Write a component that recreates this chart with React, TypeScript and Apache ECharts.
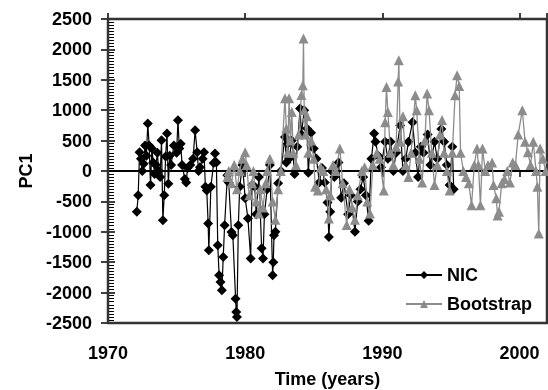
import React, { useEffect, useRef } from "react";
import * as echarts from "echarts";

const seriesNames = ["NIC", "Bootstrap"];
const yTicks = { min: -2500, max: 2500, step: 500 };
const xTicks = { min: 1970, max: 2002, step: 10 };

const nicData: number[][] = [
  [1972.1, -670], [1972.2, -400], [1972.3, 310], [1972.4, 200], [1972.5, 0], [1972.6, 120],
  [1972.7, 420], [1972.8, 250], [1972.9, 780], [1973.0, 420], [1973.1, -230], [1973.2, 370],
  [1973.3, 140], [1973.4, -50], [1973.5, 100], [1973.6, 300], [1973.7, 0], [1973.8, -100],
  [1973.9, 505], [1974.0, -810], [1974.1, -400], [1974.2, 240], [1974.3, 615], [1974.4, -210],
  [1974.5, 250], [1974.6, 100], [1974.8, 420], [1975.0, 300], [1975.1, 834], [1975.2, 370],
  [1975.3, 450], [1975.4, 100], [1975.6, -130], [1975.7, -190], [1975.8, 50], [1976.0, 100],
  [1976.2, 200], [1976.35, 670], [1976.5, 310], [1976.6, 0], [1976.7, 60], [1976.9, 200],
  [1977.0, 310], [1977.1, -260], [1977.2, -320], [1977.3, -865], [1977.35, -1305], [1977.5, -260],
  [1977.7, 130], [1977.8, 286], [1977.9, 140], [1978.0, -1222], [1978.1, -1716], [1978.2, -1826],
  [1978.3, -1962], [1978.4, -1415], [1978.5, -893], [1978.7, -70], [1978.8, -190], [1979.0, -1003],
  [1979.1, -1058], [1979.3, -2100], [1979.35, -2320], [1979.4, -2400], [1979.5, -893], [1979.6, -260],
  [1979.8, 100], [1980.0, -450], [1980.2, -780], [1980.4, -1440], [1980.5, -230], [1980.7, -260],
  [1980.8, -710], [1981.0, -100], [1981.2, -1270], [1981.3, -1440], [1981.4, -710], [1981.6, -300],
  [1981.8, 100], [1982.0, -1716], [1982.05, -1500], [1982.1, -1058], [1982.2, -1000], [1982.4, -200],
  [1982.6, 0], [1982.9, 560], [1983.0, 140], [1983.1, 450], [1983.2, 200], [1983.4, 500],
  [1983.6, -50], [1983.8, 400], [1984.0, 1030], [1984.1, 600], [1984.3, 1000], [1984.5, 700],
  [1984.6, -30], [1984.8, 630], [1985.0, 370], [1985.2, 200], [1985.4, -190], [1985.6, 50],
  [1985.8, -190], [1986.0, -520], [1986.1, -1085], [1986.2, -670], [1986.3, 0], [1986.5, -100],
  [1986.8, 140], [1987.0, -440], [1987.2, -200], [1987.5, -710], [1987.7, -400], [1988.0, -1000],
  [1988.2, -500], [1988.4, -300], [1988.6, -100], [1988.8, -400], [1989.0, -820], [1989.2, 200],
  [1989.4, 615], [1989.5, 480], [1989.7, 250], [1989.9, 60], [1990.2, 480], [1990.4, 200],
  [1990.6, 480], [1990.8, 0], [1991.0, 300], [1991.3, 750], [1991.5, 0], [1991.7, 200],
  [1991.9, 480], [1992.2, 800], [1992.4, 300], [1992.6, -100], [1992.8, 400], [1993.0, 300],
  [1993.3, 600], [1993.5, 100], [1993.8, 480], [1994.0, 200], [1994.3, 690], [1994.5, 480],
  [1994.7, 100], [1994.9, -230], [1995.1, 400], [1995.2, -300],
];

const bootstrapData: number[][] = [
  [1978.7, -100], [1978.8, 0], [1979.0, -200], [1979.2, 100], [1979.4, -300], [1979.6, 0],
  [1979.8, 200], [1980.0, 310], [1980.1, 100], [1980.3, -400], [1980.5, -200], [1980.6, 0],
  [1980.8, -500], [1981.0, -700], [1981.1, -300], [1981.3, -600], [1981.5, -200], [1981.6, 0],
  [1981.8, 200], [1982.0, -500], [1982.2, -800], [1982.4, -300], [1982.6, 0], [1982.9, 1195],
  [1983.0, 700], [1983.1, 300], [1983.2, 1195], [1983.3, 500], [1983.4, 970], [1983.5, 300],
  [1983.7, 100], [1983.9, 600], [1984.1, 1250], [1984.2, 1410], [1984.25, 2178], [1984.3, 1000],
  [1984.4, 600], [1984.5, 900], [1984.6, 300], [1984.8, 500], [1985.0, 200], [1985.1, -260],
  [1985.3, -320], [1985.5, 60], [1985.7, 0], [1985.9, -300], [1986.1, -780], [1986.2, -400],
  [1986.4, 100], [1986.6, 0], [1986.9, 370], [1987.1, -200], [1987.4, -890], [1987.6, -300],
  [1987.8, -600], [1988.0, -800], [1988.2, -400], [1988.5, 0], [1988.7, 60], [1988.9, -500],
  [1989.1, -700], [1989.3, 100], [1989.6, 300], [1989.8, 200], [1990.1, -320], [1990.2, 800],
  [1990.3, 1380], [1990.4, 970], [1990.6, 300], [1990.8, 100], [1991.0, 400], [1991.15, 1470],
  [1991.2, 1820], [1991.3, 480], [1991.5, 900], [1991.7, 100], [1991.9, -100], [1992.1, 300],
  [1992.4, 1245], [1992.5, 1000], [1992.7, 200], [1992.9, -190], [1993.1, 500], [1993.26, 1273],
  [1993.4, 1000], [1993.6, 300], [1993.8, -230], [1994.0, 100], [1994.2, 600], [1994.35, 840],
  [1994.5, 300], [1994.7, 0], [1994.9, -320], [1995.1, 300], [1995.3, 1245], [1995.45, 1574],
  [1995.6, 1400], [1995.7, 300], [1995.9, 0], [1996.1, -100], [1996.3, -200], [1996.5, -565],
  [1996.7, 100], [1996.9, 370], [1997.0, 100], [1997.15, -565], [1997.3, 370], [1997.5, 0],
  [1997.7, 100], [1998.0, 140], [1998.1, -230], [1998.3, -450], [1998.4, -730], [1998.5, -670],
  [1998.7, -200], [1998.9, -130], [1999.1, 0], [1999.3, -190], [1999.5, 140], [1999.7, 100],
  [1999.9, 600], [2000.2, 1000], [2000.4, 480], [2000.6, 310], [2000.8, 100], [2001.0, 480],
  [2001.2, 0], [2001.3, -260], [2001.4, -1030], [2001.5, 370], [2001.7, 200], [2001.9, 0],
];

const FONT = "'Liberation Sans', Arial, sans-serif";

const GRID = { left: 108, top: 19, right: 1, bottom: 67 };
const W = 548;
const H = 390;

export default function App() {
  const ref = useRef<HTMLDivElement>(null);
  useEffect(() => {
    if (!ref.current) return;
    const chart = echarts.init(ref.current, undefined, { renderer: "svg" });
    const textBase = { fontFamily: FONT, fontWeight: "bold", fontSize: 18, color: "#000" };
    const xBase = { type: "value", min: xTicks.min, max: xTicks.max, interval: xTicks.step, splitLine: { show: false } };
    const yBase = { type: "value", min: yTicks.min, max: yTicks.max, interval: yTicks.step, splitLine: { show: false } };
    const noLabel = { show: false };
    chart.setOption({
      animation: false,
      grid: { ...GRID, outerBoundsMode: "none", containLabel: false },
      graphic: [
        {
          type: "rect",
          z: 1,
          silent: true,
          shape: { x: GRID.left, y: GRID.top, width: W - GRID.left - GRID.right, height: H - GRID.top - GRID.bottom },
          style: { fill: "none", stroke: "#333", lineWidth: 2.5 },
        },
      ],
      legend: {
        orient: "vertical",
        left: 400,
        top: 261,
        itemWidth: 36,
        itemHeight: 10,
        itemGap: 11,
        textStyle: textBase,
        data: seriesNames,
      },
      xAxis: [
        {
          ...xBase,
          position: "bottom",
          axisLine: { show: false },
          axisTick: { show: false },
          axisLabel: { ...textBase, margin: 21, formatter: (v: number) => (v % 10 === 0 ? String(v) : "") },
          name: "Time (years)",
          nameLocation: "middle",
          nameGap: 47,
          nameTextStyle: textBase,
        },
        {
          ...xBase,
          position: "bottom",
          axisLine: { show: true, onZero: true, lineStyle: { color: "#000", width: 2 } },
          axisTick: { show: true, length: 6, lineStyle: { color: "#000", width: 1.5 } },
          axisLabel: noLabel,
        },
        {
          ...xBase,
          position: "top",
          axisLine: { show: false, onZero: true },
          axisTick: { show: true, length: 6, lineStyle: { color: "#000", width: 1.5 } },
          axisLabel: noLabel,
        },
      ],
      yAxis: [
        {
          ...yBase,
          position: "left",
          axisLine: { show: true, lineStyle: { color: "#000", width: 2 } },
          axisTick: { show: true, inside: false, length: 7, lineStyle: { color: "#000", width: 1.5 } },
          axisLabel: { ...textBase, margin: 16, formatter: (v: number) => String(v) },
          name: "PC1",
          nameLocation: "middle",
          nameGap: 66,
          nameTextStyle: textBase,
        },
        {
          ...yBase,
          position: "left",
          axisLine: { show: false },
          axisTick: { show: true, inside: true, length: 7, lineStyle: { color: "#000", width: 1.5 } },
          minorTick: { show: true, splitNumber: 10, length: 6, lineStyle: { color: "#000", width: 1 } },
          axisLabel: noLabel,
        },
      ],
      series: [
        {
          name: seriesNames[0],
          type: "line",
          xAxisIndex: 0,
          yAxisIndex: 0,
          data: nicData,
          symbol: "diamond",
          symbolSize: 10,
          lineStyle: { color: "#000", width: 1.2 },
          itemStyle: { color: "#000" },
          z: 3,
        },
        {
          name: seriesNames[1],
          type: "line",
          xAxisIndex: 0,
          yAxisIndex: 0,
          data: bootstrapData,
          symbol: "triangle",
          symbolSize: 10,
          lineStyle: { color: "#8c8c8c", width: 1.3 },
          itemStyle: { color: "#8c8c8c" },
          z: 4,
        },
      ],
    });
    return () => chart.dispose();
  }, []);
  return <div ref={ref} style={{ position: "fixed", left: 0, top: 0, width: W, height: H }} />;
}
